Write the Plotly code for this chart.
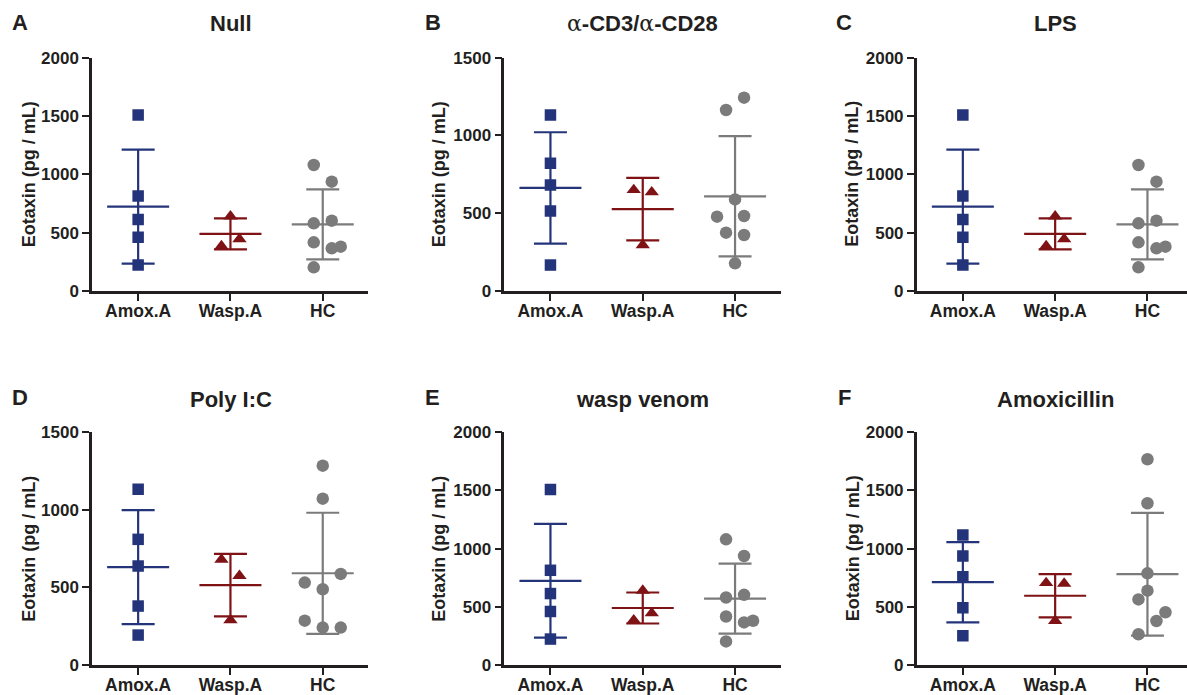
import numpy as np
import plotly.graph_objects as go

# ---------------- data (pg/mL) ----------------
categories = ["Amox.A", "Wasp.A", "HC"]
panel_letters = ["A", "B", "C", "D", "E", "F"]
panel_titles = ["Null", "α-CD3/α-CD28", "LPS", "Poly I:C", "wasp venom", "Amoxicillin"]
y_max = [2000, 1500, 2000, 1500, 2000, 2000]

null_amox = [1508, 814, 614, 460, 223]
null_wasp = [640, 385, 445]
null_hc = [1080, 937, 603, 580, 417, 380, 366, 203]

cd3_amox = [1131, 821, 681, 514, 167]
cd3_wasp = [650, 635, 295]
cd3_hc = [1243, 1164, 589, 478, 482, 375, 360, 178]

lps_amox = [1508, 814, 614, 460, 223]
lps_wasp = [640, 385, 445]
lps_hc = [1080, 937, 603, 580, 417, 380, 366, 203]

polyic_amox = [1133, 810, 638, 380, 193]
polyic_wasp = [680, 575, 290]
polyic_hc = [1285, 1072, 587, 531, 488, 286, 241, 241]

wasp_amox = [1508, 814, 614, 460, 223]
wasp_wasp = [640, 385, 445]
wasp_hc = [1080, 937, 603, 580, 417, 380, 366, 203]

amoxi_amox = [1117, 937, 759, 493, 252]
amoxi_wasp = [705, 700, 380]
amoxi_hc = [1768, 1390, 788, 639, 564, 453, 378, 264]

panel_data = [
    (null_amox, null_wasp, null_hc),
    (cd3_amox, cd3_wasp, cd3_hc),
    (lps_amox, lps_wasp, lps_hc),
    (polyic_amox, polyic_wasp, polyic_hc),
    (wasp_amox, wasp_wasp, wasp_hc),
    (amoxi_amox, amoxi_wasp, amoxi_hc),
]

# ---------------- styling / layout ----------------
# horizontal scatter spread of dots (in marker steps), as in the dot plot
jitter_steps = [
    ([0, 0, 0, 0, 0], [0, -1, 1], [-1, 1, 1, -1, -1, 2, 1, -1]),
    ([0, 0, 0, 0, 0], [-1, 1, 0], [1, -1, 0, -2, 1, -1, 1, 0]),
    ([0, 0, 0, 0, 0], [0, -1, 1], [-1, 1, 1, -1, -1, 2, 1, -1]),
    ([0, 0, 0, 0, 0], [-1, 1, 0], [0, 0, 2, -2, 0, -2, 0, 2]),
    ([0, 0, 0, 0, 0], [0, -1, 1], [-1, 1, 1, -1, -1, 2, 1, -1]),
    ([0, 0, 0, 0, 0], [-1, 1, 0], [0, 0, 0, 0, -1, 2, 1, -1]),
]

W, H = 1187, 695
CAT_PX = 92.3                 # pixels per category
STEP = 9.0 / CAT_PX           # jitter step in category units
MEAN_HW = 31.0 / CAT_PX       # half width of the mean line
CAP_HW = 16.5 / CAT_PX        # half width of SD caps

colors = ["#24347a", "#7e1215", "#7b7b7b"]
symbols = ["square", "triangle-up", "circle"]
msizes = [11.5, 12.5, 12.5]
AX = "#231f20"
FONT = "Liberation Sans, Arial, sans-serif"

col_left = [92.0, 504.3, 916.7]
col_right = [368.0, 781.0, 1187.0]
row_top = [57.7, 432.3]
row_bot = [291.0, 665.0]
title_x = [231.0, 642.5, 1055.7]
title_y = [24.0, 399.0]
letter_x = [19.5, 432.7, 844.0]
letter_y = [22.5, 397.0]
ytitle_x = [29.0, 439.0, 852.5]

fig = go.Figure()
annotations = []
shapes = []
layout_axes = {}

for p in range(6):
    r, c = divmod(p, 3)
    idx = p + 1
    xa = "x" if idx == 1 else f"x{idx}"
    ya = "y" if idx == 1 else f"y{idx}"
    xkey = "xaxis" if idx == 1 else f"xaxis{idx}"
    ykey = "yaxis" if idx == 1 else f"yaxis{idx}"

    x_hi = -0.5 + (col_right[c] - col_left[c]) / CAT_PX
    layout_axes[xkey] = dict(
        domain=[col_left[c] / W, col_right[c] / W],
        anchor=ya, range=[-0.5, x_hi], automargin=False,
        tickvals=[0, 1, 2], ticktext=categories,
        showline=True, linecolor=AX, linewidth=2.5,
        ticks="outside", ticklen=7, tickwidth=2, tickcolor=AX,
        ticklabelstandoff=-5,
        showgrid=False, zeroline=False, fixedrange=True,
        tickfont=dict(family=FONT, size=17.5, color=AX, weight="bold"),
    )
    layout_axes[ykey] = dict(
        domain=[(H - row_bot[r]) / H, (H - row_top[r]) / H],
        anchor=xa, range=[0, y_max[p]], automargin=False,
        tickvals=list(range(0, y_max[p] + 1, 500)),
        showline=True, linecolor=AX, linewidth=2.5,
        ticks="outside", ticklen=7, tickwidth=2, tickcolor=AX,
        showgrid=False, zeroline=False, fixedrange=True,
        tickfont=dict(family=FONT, size=17, color=AX, weight="bold"),
    )

    for g in range(3):
        vals = np.array(panel_data[p][g], dtype=float)
        xs = g + np.array(jitter_steps[p][g]) * STEP
        fig.add_trace(go.Scatter(
            x=xs, y=vals, mode="markers", xaxis=xa, yaxis=ya,
            marker=dict(symbol=symbols[g], size=msizes[g], color=colors[g],
                        line=dict(width=0)),
            showlegend=False, hoverinfo="y",
        ))
        m = vals.mean()
        sd = vals.std(ddof=1)
        lx = [g - MEAN_HW, g + MEAN_HW, None,
              g, g, None,
              g - CAP_HW, g + CAP_HW, None,
              g - CAP_HW, g + CAP_HW]
        ly = [m, m, None,
              m - sd, m + sd, None,
              m + sd, m + sd, None,
              m - sd, m - sd]
        fig.add_trace(go.Scatter(
            x=lx, y=ly, mode="lines", xaxis=xa, yaxis=ya,
            line=dict(color=colors[g], width=2.2),
            showlegend=False, hoverinfo="skip",
        ))

    # dotted baseline just under the x axis
    shapes.append(dict(
        type="line", xref=f"{xa} domain", x0=0, x1=1,
        yref=ya, ysizemode="pixel", yanchor=0, y0=-2, y1=-2,
        line=dict(color="#8a8a8a", width=1, dash="dot"),
    ))

    # panel title
    annotations.append(dict(
        text=panel_titles[p].replace(
            "α", "<span style='font-family:\"DejaVu Serif\",serif;font-weight:normal'>α</span>"),
        x=title_x[c] / W, y=1 - title_y[r] / H, xref="paper", yref="paper",
        xanchor="center", yanchor="middle", showarrow=False,
        font=dict(family=FONT, size=22, color=AX, weight="bold"),
    ))
    # panel letter
    annotations.append(dict(
        text=panel_letters[p],
        x=letter_x[c] / W, y=1 - letter_y[r] / H, xref="paper", yref="paper",
        xanchor="center", yanchor="middle", showarrow=False,
        font=dict(family=FONT, size=22, color=AX, weight="bold"),
    ))
    # y axis title
    annotations.append(dict(
        text="Eotaxin (pg / mL)", textangle=-90,
        x=ytitle_x[c] / W, y=1 - (row_top[r] + row_bot[r]) / 2 / H,
        xref="paper", yref="paper", xanchor="center", yanchor="middle",
        showarrow=False,
        font=dict(family=FONT, size=18, color=AX, weight="bold"),
    ))

fig.update_layout(
    width=W, height=H,
    margin=dict(l=0, r=0, t=0, b=0, pad=0, autoexpand=False),
    paper_bgcolor="white", plot_bgcolor="white",
    annotations=annotations, shapes=shapes,
    **layout_axes,
)

fig.write_html(
    "out.html",
    config={"displayModeBar": False},
    post_script="document.body.style.margin='0';document.body.style.padding='0';"
                "document.documentElement.style.overflow='hidden';",
)
